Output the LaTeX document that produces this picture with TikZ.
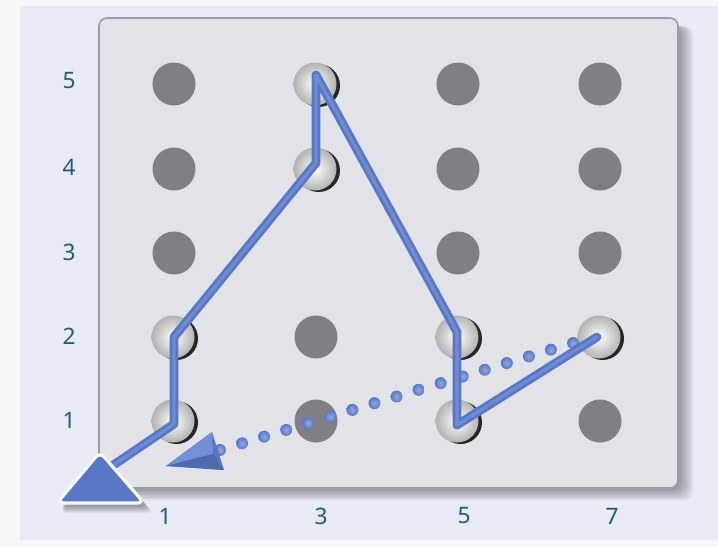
\documentclass[tikz,border=0pt]{standalone}
\usepackage{fontspec}
\setmainfont{Noto Sans}
\usetikzlibrary{calc}
\definecolor{bgwhite}{HTML}{F7F7FA}
\definecolor{bglav}{HTML}{E8EAF5}
\definecolor{board}{HTML}{E1E3E8}
\definecolor{boardedge}{HTML}{9C9CA3}
\definecolor{holegray}{HTML}{7F7F85}
\definecolor{tubeblue}{HTML}{5A77C5}
\definecolor{tubelight}{HTML}{7893DA}
\definecolor{labteal}{HTML}{225C78}
\tikzset{
  lab/.style={text=labteal, font=\fontsize{17}{19}\selectfont, inner sep=0pt},
  hole/.style={fill=holegray},
  tube/.style={draw=tubeblue, line width=6.6pt, line join=round, line cap=round},
  tubehi/.style={draw=tubelight!70!tubeblue, line width=2.4pt, line join=round, line cap=round},
  dotball/.style={shading=radial, inner color=tubelight!80!white, outer color=tubeblue},
}
\newcommand{\visitedhole}[1]{%
  \fill[black!85] ($(#1)+(2.5,1.5)$) circle (21.5);
  \shade[inner color=white, outer color=gray!60] ($(#1)+(-1,0)$) circle (21.5);
}
\begin{document}
\begin{tikzpicture}[x=0.75pt,y=-0.75pt]
\useasboundingbox (0,0) rectangle (718,547);
\fill[bgwhite] (0,0) rectangle (718,547);
\fill[bglav] (20,6) rectangle (718,540);
% board shadow
\foreach \i in {1,...,9}{
  \fill[black, opacity=0.045, rounded corners=7] (106,26) rectangle ({678+\i*1.7},{488+\i*1.4});
}
% board
\fill[board, draw=boardedge, line width=1.2pt, rounded corners=6] (99,18) rectangle (678,488);
% hole coordinates
\foreach \c/\x in {1/174,3/316,5/458,7/600}{
  \foreach \r/\y in {1/421,2/337,3/253,4/169,5/84}{
    \coordinate (h\c\r) at (\x,\y);
  }
}
% unvisited holes
\foreach \n in {h15,h14,h13,h32,h31,h55,h54,h53,h75,h74,h73,h71}{
  \fill[hole] (\n) circle (21.5);
}
% visited holes
\foreach \n in {h11,h12,h34,h35,h51,h52,h72}{
  \visitedhole{\n}
}
% labels
\foreach \r/\y in {1/420,2/336,3/252,4/167,5/81}{
  \node[lab] (l\r) at (69,\y) {\r};
}
\foreach \c/\x in {1/165,3/321,5/464,7/612}{
  \node[lab] (b\c) at (\x,516) {\c};
}
% path points
\coordinate (p72) at (597,337);
\coordinate (p51) at (457,425);
\coordinate (p52) at (457,332);
\coordinate (p35) at (316,75);
\coordinate (p34) at (316,163);
\coordinate (p12) at (174,337);
\coordinate (p11) at (174,424);
\coordinate (pend) at (112,466);
% dotted line
\foreach \k in {0,...,16}{
  \shade[dotball] ($(573,343)!\k/16!(220,450)$) circle (6);
}
% dotted arrowhead
\coordinate (dtip) at (166,466);
\coordinate (dtop) at (212,432);
\coordinate (dbot) at (224,470);
\coordinate (dmid) at (213,454);
\fill[tubeblue] (dtip) -- (dtop) -- (dbot) -- cycle;
\fill[tubelight!85!tubeblue] (dtip) -- (dtop) -- (dmid) -- cycle;
\fill[tubeblue!88!black] (dmid) -- (dbot) -- (dtip) -- cycle;
% solid tube
\draw[tube] (p72) -- (p51) -- (p52) -- (p35) -- (p34) -- (p12) -- (p11) -- (pend);
\draw[tubehi] (p72) -- (p51) -- (p52) -- (p35) -- (p34) -- (p12) -- (p11) -- (pend);
% big triangle arrowhead
\coordinate (ta) at (100,452);
\coordinate (tl) at (57,503);
\coordinate (tr) at (144,503);
\foreach \i in {1,...,7}{
  \fill[black, opacity=0.05, rounded corners=5] ($(ta)+(3,{3+\i})$) -- ($(tl)+(3,{3+\i})$) -- ($(tr)+({3+\i},{3+\i})$) -- cycle;
}
\filldraw[fill=tubeblue, draw=white!95!tubeblue, line width=2.4pt, rounded corners=5, line join=round] (ta) -- (tl) -- (tr) -- cycle;
\end{tikzpicture}
\end{document}
